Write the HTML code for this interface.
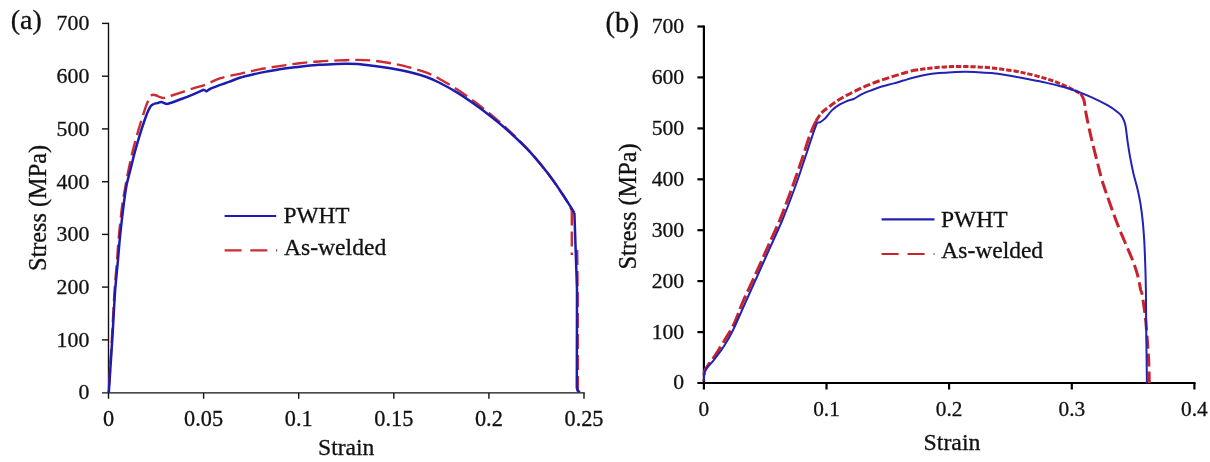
<!DOCTYPE html>
<html lang="en"><head><meta charset="utf-8"><title>Stress-strain curves</title>
<style>
html,body{margin:0;padding:0;background:#fff;}
body{width:1210px;height:462px;position:relative;overflow:hidden;font-family:"Liberation Serif","Times New Roman",serif;}
</style></head><body>
<svg width="1210" height="462" viewBox="0 0 1210 462" style="display:block;position:absolute;left:0;top:0">
<rect width="1210" height="462" fill="#fff"/>
<g stroke="#111" stroke-width="1.4" fill="none">
<path d="M108.5,22.8 V398.8"/>
<path d="M102,392.9 H584.8"/>
<path d="M102,23.4 H108.5"/>
<path d="M102,76.2 H108.5"/>
<path d="M102,128.9 H108.5"/>
<path d="M102,181.7 H108.5"/>
<path d="M102,234.4 H108.5"/>
<path d="M102,287.1 H108.5"/>
<path d="M102,339.9 H108.5"/>
<path d="M203.6,392.9 V398.8"/>
<path d="M298.7,392.9 V398.8"/>
<path d="M393.8,392.9 V398.8"/>
<path d="M488.9,392.9 V398.8"/>
<path d="M584.0,392.9 V398.8"/>
</g>
<g font-family="'Liberation Serif','Times New Roman',serif" fill="#111" stroke="#111" stroke-width="0.3">
<g font-size="21.8px" text-anchor="end">
<text x="89.3" y="30.2">700</text>
<text x="89.3" y="83.0">600</text>
<text x="89.3" y="135.7">500</text>
<text x="89.3" y="188.5">400</text>
<text x="89.3" y="241.2">300</text>
<text x="89.3" y="293.9">200</text>
<text x="89.3" y="346.7">100</text>
<text x="89.3" y="399.4">0</text>
</g>
<g font-size="22.3px" text-anchor="middle">
<text x="108.5" y="425.7">0</text>
<text x="203.6" y="425.7">0.05</text>
<text x="298.7" y="425.7">0.1</text>
<text x="393.8" y="425.7">0.15</text>
<text x="488.9" y="425.7">0.2</text>
<text x="584.0" y="425.7">0.25</text>
</g>
<text x="346.2" y="455" font-size="23.6px" text-anchor="middle">Strain</text>
<text transform="translate(45.8,208) rotate(-90)" font-size="24.3px" text-anchor="middle">Stress (MPa)</text>
<text x="10.8" y="29.2" font-size="28px">(a)</text>
<text x="283.5" y="223" font-size="23.3px">PWHT</text>
<text x="284" y="255" font-size="23.6px">As-welded</text>
</g>
<path d="M224.6,216 H276.2" stroke="#1c1cb0" stroke-width="2.2" fill="none"/>
<path d="M224.6,250.3 H277" stroke="#cc2c30" stroke-width="2.2" stroke-dasharray="17 8.7" fill="none"/>
<g fill="none" stroke="#cc2c30" stroke-width="2.4" stroke-linejoin="round">
<path d="M150.9,95.7 C150.8,95.9 151.0,95.6 150.3,96.9 C149.6,98.2 148.3,100.3 146.9,103.8 C145.5,107.3 143.7,113.1 142.1,118.1 C140.5,123.1 139.0,128.0 137.4,133.6 C135.8,139.2 134.2,144.8 132.6,151.4 C131.0,158.0 129.2,166.5 127.9,172.9 C126.6,179.3 125.7,184.8 124.8,190.0 C123.9,195.2 123.4,196.3 122.4,203.8 C121.4,211.3 119.9,225.3 119.0,234.8 C118.1,244.3 117.7,251.8 117.0,261.0 C116.3,270.2 115.5,276.5 114.6,290.0 C113.7,303.5 112.7,324.9 111.7,342.0 C110.7,359.1 109.2,384.0 108.7,392.4" stroke-dasharray="15 6" stroke-dashoffset="15"/>
<path d="M150.9,95.7 C151.2,95.5 152.0,94.8 152.9,94.8 C153.8,94.8 155.2,95.1 156.4,95.5 C157.6,95.9 158.6,96.7 160.0,97.1 C161.4,97.5 162.8,98.2 164.8,97.9 C166.8,97.6 169.1,96.4 171.9,95.5 C174.7,94.6 177.8,93.6 181.4,92.4 C185.0,91.2 189.3,89.6 193.3,88.3 C197.3,87.0 200.8,86.4 205.2,84.8 C209.6,83.2 214.1,80.2 219.8,78.4 C225.6,76.6 233.1,75.3 239.7,73.8 C246.3,72.3 252.9,70.7 259.5,69.4 C266.1,68.1 272.8,67.1 279.4,66.1 C286.0,65.1 292.6,64.0 299.2,63.2 C305.8,62.4 312.4,62.0 319.0,61.5 C325.6,61.0 332.5,60.7 338.9,60.4 C345.3,60.1 351.4,59.8 357.3,59.9 C363.2,60.0 368.8,60.2 374.6,60.8 C380.4,61.4 386.1,62.3 391.9,63.4 C397.7,64.5 403.4,65.8 409.2,67.3 C415.0,68.8 421.4,70.7 426.5,72.7 C431.6,74.7 434.9,76.4 440.0,79.2 C445.1,82.0 451.5,85.8 457.3,89.6 C463.1,93.4 468.8,97.5 474.6,101.8 C480.4,106.1 486.1,110.6 491.9,115.4 C497.7,120.2 502.9,124.8 509.2,130.8 C515.5,136.8 522.9,143.8 529.5,151.2 C536.1,158.5 543.5,167.7 549.0,174.9 C554.5,182.1 559.4,189.8 562.6,194.6 C565.9,199.4 567.0,201.2 568.5,203.8 C570.0,206.5 571.2,209.4 571.8,210.5" stroke-dasharray="15 6"/>
<path d="M571.8,210.5 L571.8,255.0" stroke-dasharray="15 6"/>
<path d="M577.2,250.0 L577.7,300.0 L577.8,392.0" stroke-dasharray="15 6"/>
</g>
<g fill="none" stroke="#1c1cb0" stroke-width="2.5" stroke-linejoin="round">
<path d="M108.8,392.4 C109.3,384.0 111.0,359.1 112.1,342.0 C113.2,324.9 114.2,303.5 115.2,290.0 C116.2,276.5 117.1,270.2 117.9,261.0 C118.7,251.8 119.2,244.3 120.2,234.8 C121.2,225.3 122.7,212.1 123.8,203.8 C124.9,195.5 125.5,190.6 126.6,185.0 C127.7,179.4 128.8,176.1 130.2,170.5 C131.6,164.9 133.4,157.3 135.0,151.4 C136.6,145.5 138.2,140.0 139.8,134.8 C141.4,129.7 143.1,124.5 144.5,120.5 C145.9,116.5 147.0,113.5 148.1,111.0 C149.2,108.5 150.0,106.9 151.0,105.7 C152.0,104.5 153.5,104.1 154.0,103.8"/>
<path d="M154.0,103.8 C154.6,103.7 156.4,103.4 157.6,103.1 C158.8,102.8 159.8,102.0 161.2,102.1 C162.6,102.2 164.6,103.6 166.0,103.8 C167.4,104.0 166.9,104.1 169.5,103.3 C172.1,102.5 177.4,100.5 181.4,99.0 C185.4,97.5 189.5,95.9 193.3,94.3 C197.1,92.7 202.2,90.3 204.0,89.5"/>
<path d="M204.0,89.5 C204.4,89.8 205.4,91.3 206.4,91.2 C207.4,91.1 207.8,90.0 210.0,89.0 C212.2,88.0 216.3,86.4 219.5,85.2 C222.7,84.0 225.6,83.1 229.0,81.9 C232.4,80.7 235.7,79.0 239.7,77.8 C243.7,76.6 248.5,75.5 252.9,74.5 C257.3,73.5 261.7,72.5 266.1,71.6 C270.5,70.7 275.0,70.0 279.4,69.3 C283.8,68.6 288.2,68.1 292.6,67.5 C297.0,66.9 301.4,66.4 305.8,65.9 C310.2,65.5 314.6,65.1 319.0,64.8 C323.4,64.5 327.9,64.4 332.3,64.2 C336.7,64.0 341.3,63.8 345.5,63.8 C349.7,63.8 352.4,63.7 357.3,64.1 C362.2,64.5 368.8,65.3 374.6,66.0 C380.4,66.7 386.1,67.5 391.9,68.5 C397.7,69.5 403.4,70.6 409.2,72.0 C415.0,73.4 421.4,75.2 426.5,77.0 C431.6,78.8 434.9,80.4 440.0,83.0 C445.1,85.6 451.5,89.1 457.3,92.6 C463.1,96.1 468.8,100.1 474.6,104.2 C480.4,108.3 486.1,112.6 491.9,117.2 C497.7,121.8 502.9,126.0 509.2,131.7 C515.5,137.4 522.9,144.2 529.5,151.4 C536.1,158.6 543.5,167.7 549.0,174.8 C554.5,182.0 559.0,189.0 562.6,194.3 C566.2,199.6 568.4,203.4 570.4,206.5 C572.4,209.6 573.7,211.9 574.4,213.0"/>
<path d="M574.4,213.0 L575.7,251.4 L577.0,289.5 L576.8,387.8 L577.8,390.8 L580.0,392.0"/>
</g>
<g stroke="#000" stroke-width="2.2" fill="none">
<path d="M703.9,25.4 V389.5"/>
<path d="M697.4,383 H1195.5"/>
<path d="M697.4,26.5 H703.9"/>
<path d="M697.4,77.4 H703.9"/>
<path d="M697.4,128.4 H703.9"/>
<path d="M697.4,179.3 H703.9"/>
<path d="M697.4,230.2 H703.9"/>
<path d="M697.4,281.1 H703.9"/>
<path d="M697.4,332.1 H703.9"/>
<path d="M826.5,383 V389.5"/>
<path d="M949.1,383 V389.5"/>
<path d="M1071.8,383 V389.5"/>
<path d="M1194.4,383 V389.5"/>
</g>
<g font-family="'Liberation Serif','Times New Roman',serif" fill="#111" stroke="#111" stroke-width="0.3">
<g font-size="21.7px" text-anchor="end">
<text x="684.2" y="32.9">700</text>
<text x="684.2" y="83.8">600</text>
<text x="684.2" y="134.8">500</text>
<text x="684.2" y="185.7">400</text>
<text x="684.2" y="236.6">300</text>
<text x="684.2" y="287.5">200</text>
<text x="684.2" y="338.5">100</text>
<text x="684.2" y="389.4">0</text>
</g>
<g font-size="21.3px" text-anchor="middle">
<text x="703.9" y="416.1">0</text>
<text x="826.5" y="416.1">0.1</text>
<text x="949.1" y="416.1">0.2</text>
<text x="1071.8" y="416.1">0.3</text>
<text x="1194.4" y="416.1">0.4</text>
</g>
<text x="952" y="450.4" font-size="23.8px" text-anchor="middle">Strain</text>
<text transform="translate(636.2,206.5) rotate(-90)" font-size="24.3px" text-anchor="middle">Stress (MPa)</text>
<text x="605.6" y="31.8" font-size="28.6px">(b)</text>
<text x="941" y="227.2" font-size="23.5px">PWHT</text>
<text x="941.3" y="258.4" font-size="23.5px">As-welded</text>
</g>
<path d="M881.6,219.4 H934.5" stroke="#2222b4" stroke-width="2.2" fill="none"/>
<path d="M881.6,254 H934.5" stroke="#c8222c" stroke-width="2.2" stroke-dasharray="17 9" fill="none"/>
<g fill="none" stroke="#c8222c" stroke-width="3.0" stroke-linejoin="round">
<path d="M703.8,381.2 C703.9,379.6 703.9,374.2 704.5,371.7 C705.1,369.2 705.8,368.7 707.5,366.0 C709.2,363.3 712.1,360.0 715.0,355.7 C717.9,351.4 721.4,345.5 724.6,340.2 C727.8,334.9 731.0,330.1 734.1,323.6 C737.2,317.2 739.5,309.6 743.0,301.5 C746.5,293.4 751.1,284.0 755.2,275.0 C759.3,266.0 763.4,256.7 767.5,247.5 C771.6,238.3 775.8,229.6 779.8,220.0 C783.8,210.4 788.4,197.8 791.3,190.0 C794.2,182.2 795.3,178.7 797.3,173.0 C799.2,167.3 800.8,162.8 803.0,156.1 C805.2,149.4 808.6,138.5 810.8,132.7 C813.0,126.8 815.1,123.0 816.0,121.0" stroke-dasharray="14.5 4.5" stroke-dashoffset="-6"/>
<path d="M816.0,121.0 C816.9,119.7 819.0,115.6 821.2,113.2 C823.4,110.8 826.2,109.0 829.0,106.8 C831.8,104.6 835.1,102.2 838.1,100.3 C841.1,98.3 843.9,96.8 847.1,95.1 C850.3,93.4 854.0,91.6 857.5,89.9 C861.0,88.2 864.0,86.8 867.9,85.2 C871.8,83.6 876.6,81.8 880.9,80.3 C885.2,78.8 890.0,77.3 893.9,76.1 C897.8,74.9 901.1,73.9 904.3,73.0 C907.5,72.1 911.5,70.9 913.0,70.5" stroke-dasharray="7.3 2.6"/>
<path d="M913.0,70.5 C915.2,70.2 921.7,69.1 926.0,68.6 C930.3,68.1 934.7,67.6 939.0,67.3 C943.3,67.0 947.7,66.7 952.0,66.6 C956.3,66.5 960.7,66.5 965.0,66.6 C969.3,66.6 973.7,66.7 978.0,66.9 C982.3,67.1 986.7,67.5 991.0,67.9 C995.3,68.3 999.7,68.9 1004.0,69.5 C1008.3,70.1 1013.3,70.8 1017.0,71.4 C1020.7,72.1 1022.0,72.4 1026.2,73.4 C1030.5,74.4 1037.1,76.0 1042.5,77.6 C1047.9,79.2 1053.3,80.9 1058.7,83.1 C1064.1,85.3 1071.3,88.8 1075.0,90.6 C1078.7,92.4 1079.8,93.3 1080.8,93.8" stroke-dasharray="5.3 1.9"/>
<path d="M1080.8,93.8 C1081.3,94.9 1083.1,96.8 1084.0,100.3 C1084.9,103.8 1085.1,108.7 1086.3,114.9 C1087.5,121.1 1089.3,129.6 1091.2,137.7 C1093.1,145.8 1095.9,156.5 1097.7,163.6 C1099.5,170.7 1100.4,174.9 1101.9,180.0 C1103.4,185.1 1104.9,189.1 1106.7,194.3 C1108.5,199.5 1110.4,205.1 1112.6,211.0 C1114.8,216.9 1117.4,224.1 1119.8,230.0 C1122.2,235.9 1124.7,241.5 1126.9,246.7 C1129.1,251.9 1131.1,256.2 1132.9,261.0 C1134.7,265.8 1136.3,270.4 1137.6,275.2 C1138.9,280.0 1140.0,286.8 1140.7,290.0 C1141.5,293.2 1141.3,290.0 1142.1,294.3 C1142.8,298.6 1144.4,308.9 1145.2,315.7 C1146.0,322.4 1146.3,327.6 1146.9,334.8 C1147.5,342.0 1148.2,350.6 1148.6,358.6 C1149.0,366.6 1149.2,378.9 1149.3,383.0" stroke-dasharray="13 5"/>
</g>
<g fill="none" stroke="#2222b4" stroke-width="2.0" stroke-linejoin="round">
<path d="M703.8,381.2 C703.9,379.8 704.0,375.1 704.5,372.9 C705.0,370.7 705.3,370.3 706.9,368.1 C708.5,365.9 711.2,363.4 714.0,359.8 C716.8,356.2 720.4,351.7 723.6,346.7 C726.8,341.7 729.5,337.4 733.1,330.0 C736.7,322.6 741.3,311.7 745.4,302.5 C749.5,293.3 753.7,284.2 757.8,275.0 C761.9,265.8 766.0,256.7 770.1,247.5 C774.2,238.3 778.4,229.6 782.4,220.0 C786.4,210.4 791.1,197.8 794.0,190.0 C796.9,182.2 798.1,178.7 800.0,173.0 C801.9,167.3 803.4,162.8 805.6,156.1 C807.8,149.4 811.5,138.3 813.4,132.7 C815.3,127.1 816.6,124.0 817.3,122.3"/>
<path d="M817.3,122.3 C817.7,122.3 818.6,122.9 819.9,122.3 C821.2,121.7 823.1,120.4 825.1,118.4 C827.1,116.5 829.2,112.9 831.6,110.6 C834.0,108.3 836.8,106.3 839.4,104.7 C842.0,103.1 844.7,102.0 847.1,101.0 C849.5,100.0 851.2,100.1 853.6,99.0 C856.0,97.9 858.6,95.7 861.4,94.3 C864.2,92.9 867.2,91.8 870.5,90.6 C873.8,89.3 877.0,88.0 880.9,86.8 C884.8,85.6 890.0,84.5 893.9,83.4 C897.8,82.3 901.1,81.2 904.3,80.3 C907.5,79.3 909.4,78.6 913.0,77.7 C916.6,76.8 921.7,75.6 926.0,74.8 C930.3,74.0 934.7,73.5 939.0,73.1 C943.3,72.7 947.7,72.4 952.0,72.2 C956.3,72.0 960.7,71.8 965.0,71.8 C969.3,71.8 973.7,72.0 978.0,72.2 C982.3,72.4 986.7,72.7 991.0,73.1 C995.3,73.5 999.7,74.0 1004.0,74.7 C1008.3,75.4 1013.3,76.3 1017.0,77.0 C1020.7,77.7 1022.0,77.9 1026.2,78.7 C1030.5,79.5 1037.1,80.7 1042.5,81.9 C1047.9,83.1 1053.3,84.2 1058.7,85.7 C1064.1,87.2 1069.6,88.7 1075.0,90.6 C1080.4,92.5 1085.8,94.7 1091.2,97.1 C1096.6,99.5 1103.1,102.8 1107.4,105.2 C1111.7,107.6 1114.7,109.8 1117.1,111.7 C1119.5,113.6 1120.6,114.4 1122.0,116.6 C1123.4,118.8 1124.4,120.7 1125.3,124.7 C1126.2,128.8 1126.7,135.5 1127.5,140.9 C1128.3,146.3 1129.1,151.7 1130.1,157.1 C1131.1,162.5 1132.2,168.0 1133.4,173.4 C1134.7,178.8 1136.4,184.4 1137.6,189.5 C1138.8,194.6 1139.6,198.2 1140.5,203.8 C1141.4,209.4 1142.3,216.6 1142.9,222.9 C1143.5,229.2 1143.9,235.2 1144.3,241.9 C1144.7,248.6 1144.9,255.3 1145.2,263.3 C1145.5,271.3 1145.7,279.3 1145.9,290.0 C1146.1,300.7 1146.0,312.1 1146.2,327.6 C1146.4,343.1 1146.8,373.8 1146.9,383.0"/>
</g>
</svg>
</body></html>
